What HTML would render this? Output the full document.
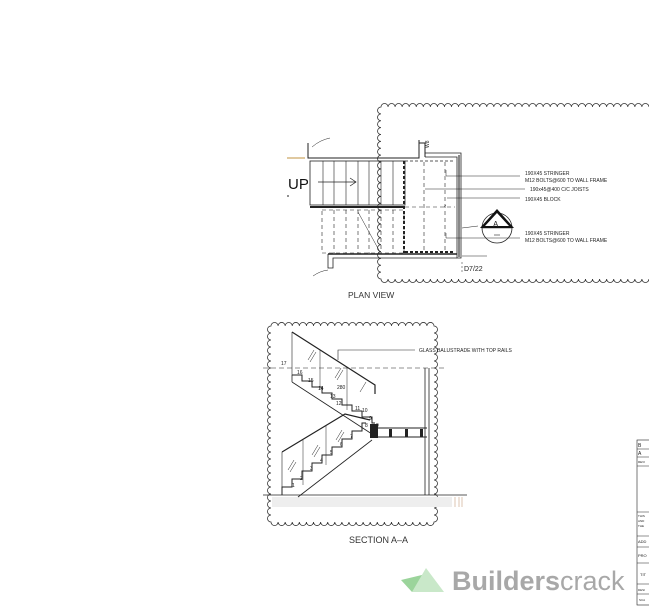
<!DOCTYPE html>
<html><head><meta charset="utf-8"><style>
html,body{margin:0;padding:0;background:#fff}
svg{display:block}
text{font-family:"Liberation Sans",sans-serif}
</style></head><body>
<svg id="s" width="649" height="616" viewBox="0 0 649 616" xmlns="http://www.w3.org/2000/svg">
<g id="clouds" fill="none" stroke="#333" stroke-width="0.8"></g>
<g stroke="#222" fill="none" stroke-width="1">
 <line x1="287" y1="158" x2="305" y2="158" stroke="#e0c9a0" stroke-width="2"/>
 <path d="M308 143 V158 H419 V140 M419 143 h6 v14"/>
 <rect x="310" y="161" width="95" height="44" stroke-width="0.8"/>
 <g stroke-width="0.6">
  <line x1="323" y1="161" x2="323" y2="205"/><line x1="334" y1="161" x2="334" y2="205"/>
  <line x1="346" y1="161" x2="346" y2="205"/><line x1="358" y1="161" x2="358" y2="205"/>
  <line x1="369" y1="161" x2="369" y2="205"/><line x1="381" y1="161" x2="381" y2="205"/>
  <line x1="393" y1="161" x2="393" y2="205"/>
 </g>
 <line x1="310" y1="207" x2="405" y2="207" stroke-width="2"/>
 <path d="M318 182 H356 M350 178 L356 182 L350 186" stroke-width="0.7"/>
 <g stroke-width="0.6" stroke-dasharray="4,3">
  <rect x="322" y="210" width="82" height="43"/>
  <line x1="334" y1="210" x2="334" y2="253"/><line x1="346" y1="210" x2="346" y2="253"/>
  <line x1="358" y1="210" x2="358" y2="253"/><line x1="369" y1="210" x2="369" y2="253"/>
  <line x1="381" y1="210" x2="381" y2="253"/><line x1="393" y1="210" x2="393" y2="253"/>
  <line x1="424" y1="162" x2="424" y2="253"/><line x1="445" y1="162" x2="445" y2="253"/>
  <line x1="405" y1="207" x2="455" y2="207"/>
 </g>
 <line x1="358" y1="212" x2="380" y2="252" stroke-width="0.5"/>
 <line x1="404" y1="161" x2="404" y2="253" stroke-width="2" stroke-dasharray="3,2"/>
 <line x1="405" y1="252" x2="455" y2="252" stroke-width="2" stroke-dasharray="3,2"/>
 <line x1="405" y1="161" x2="455" y2="161" stroke-dasharray="3,2" stroke-width="0.7"/>
 <path d="M425 153 H461 V258 H457 V157 H425" stroke-width="0.8"/>
 <path d="M459 155 V257" stroke="#888" stroke-width="2"/>
 <line x1="328" y1="254" x2="457" y2="254" stroke-width="1.6"/>
 <path d="M328 254 V268 H333 V258 H457" stroke-width="0.8"/>
 <path d="M312 147 Q320 140 330 138 M313 276 Q320 271 328 270" stroke-width="0.5"/>
 <line x1="287" y1="196" x2="289" y2="196"/>
 <g stroke-width="0.5">
  <path d="M446 170 V176 H520"/>
  <line x1="425" y1="189" x2="525" y2="189"/>
  <path d="M446 205 L444 207 M447 198 H520"/>
  <path d="M446 233 V238 H520"/>
  <line x1="462" y1="256" x2="487" y2="256"/>
  <line x1="462" y1="228" x2="478" y2="226"/>
  <line x1="462" y1="262" x2="462" y2="272" stroke-dasharray="2,2"/>
 </g>
 <circle cx="497" cy="228" r="15" stroke-width="0.8"/>
 <line x1="482" y1="228" x2="512" y2="228" stroke-width="0.6"/>
 <path d="M480 228 L497 209 L514 228 Z" fill="#111" stroke="none"/>
 <path d="M485 226 L497 213 L509 226 Z" fill="#fff" stroke="none"/>
 <line x1="494" y1="235" x2="500" y2="235" stroke-width="0.6"/>
 <!-- SECTION -->
 <line x1="263" y1="368" x2="445" y2="368" stroke-dasharray="5,3" stroke-width="0.6"/>
 <line x1="263" y1="495" x2="467" y2="495" stroke-width="0.8"/>
 <rect x="272" y="497" width="180" height="10" fill="#eee" stroke="none"/>
 <path d="M455 497 v10 M459 497 v10 M462 497 v10" stroke="#c9a080" stroke-width="0.6"/>
 <path d="M292 332 L375 385 L375 394" stroke-width="1.2"/>
 <line x1="292" y1="332" x2="292" y2="375" stroke-width="0.6"/>
 <line x1="320" y1="350" x2="320" y2="390" stroke-width="0.5"/>
 <line x1="347" y1="367" x2="347" y2="410" stroke-width="0.5"/>
 <path d="M292 375 h10 v6 h10 v6 h10 v6 h10 v6 h10 v6 h10 v6 h10 v6 h10 v6 h3" stroke-width="1"/>
 <line x1="292" y1="382" x2="375" y2="436" stroke-width="0.8"/>
 <line x1="292" y1="375" x2="292" y2="382" stroke-width="0.8"/>
 <rect x="370" y="424" width="8" height="14" fill="#222" stroke="none"/>
 <line x1="378" y1="428" x2="427" y2="428"/>
 <line x1="378" y1="437" x2="427" y2="437"/>
 <g fill="#222" stroke="none"><rect x="389" y="429" width="3" height="8"/><rect x="405" y="429" width="3" height="8"/><rect x="420" y="429" width="3" height="8"/></g>
 <path d="M425 368 V495 M429 368 V495" stroke-width="0.8"/>
 <path d="M282 452 L345 414 L370 420" stroke-width="1.2"/>
 <line x1="282" y1="452" x2="282" y2="495" stroke-width="0.6"/>
 <line x1="303" y1="440" x2="303" y2="485" stroke-width="0.5"/>
 <line x1="326" y1="426" x2="326" y2="465" stroke-width="0.5"/>
 <path d="M282 495 v-8 h10 v-8 h10 v-8 h10 v-8 h10 v-8 h10 v-8 h10 v-8 h10 v-8 h10 v-8 h4" stroke-width="1"/>
 <line x1="298" y1="497" x2="372" y2="440" stroke-width="0.8"/>
 <path d="M338 360 V350 H415" stroke-width="0.6"/>
 <g stroke-width="0.5">
  <path d="M308 360 l6 -10 M310 362 l6 -10 M335 378 l6-10 M337 380 l6-10 M360 392 l6-10"/>
  <path d="M288 470 l6-10 M290 472 l6-10 M312 455 l6-10 M314 457 l6-10 M336 440 l6-10 M338 442 l6-10"/>
 </g>
 <g stroke-width="0.6">
  <rect x="637" y="440" width="14" height="165"/>
  <path d="M637 449 h14 M637 457 h14 M637 466 h14 M637 512 h14 M637 536 h14 M637 547 h14 M637 563 h14 M637 584 h14 M637 594 h14"/>
 </g>
</g>
<g font-size="5" fill="#222">
 <text x="525" y="175">190X45 STRINGER</text>
 <text x="525" y="182">M12 BOLTS@600 TO WALL FRAME</text>
 <text x="530" y="191">190x45@400 C/C JOISTS</text>
 <text x="525" y="201">190X45 BLOCK</text>
 <text x="525" y="235">190X45 STRINGER</text>
 <text x="525" y="242">M12 BOLTS@600 TO WALL FRAME</text>
 <text x="419" y="352">GLASS BALUSTRADE WITH TOP RAILS</text>
 <text x="281" y="365">17</text><text x="297" y="374">16</text><text x="308" y="382">15</text>
 <text x="318" y="390">14</text><text x="337" y="389">280</text><text x="330" y="398">13</text>
 <text x="336" y="405">12</text><text x="355" y="410">11</text><text x="362" y="412">10</text>
 <text x="369" y="420">9</text><text x="376" y="427">9</text><text x="365" y="427">8</text>
 <text x="292" y="487">1</text><text x="300" y="480">2</text><text x="310" y="470">3</text>
 <text x="320" y="462">4</text><text x="330" y="454">5</text><text x="340" y="446">6</text><text x="350" y="438">7</text>
 <text x="638" y="447">B</text><text x="638" y="455">A</text><text x="638" y="463" font-size="3">REVI</text>
 <text x="638" y="517" font-size="3">THIS</text><text x="638" y="522" font-size="3">AND</text><text x="638" y="527" font-size="3">THE</text>
 <text x="638" y="543" font-size="4">ADD</text><text x="638" y="557" font-size="4">PRO</text><text x="640" y="576" font-size="4">TIT</text>
 <text x="638" y="591" font-size="3">DESI</text><text x="639" y="601" font-size="3">SCA</text>
</g>
<text x="288" y="189" font-size="15" fill="#111">UP</text>
<text x="464" y="271" font-size="7" fill="#222">D7/22</text>
<text x="493" y="227" font-size="8" fill="#222">A</text>
<text x="429" y="148" font-size="5" fill="#222" transform="rotate(-90 429 148)">W8</text>
<text x="348" y="298" font-size="8.5" fill="#333">PLAN  VIEW</text>
<text x="349" y="543" font-size="9" fill="#333">SECTION  A–A</text>
<path d="M401 580 L412 592 L426 574 Z" fill="#9bd49b"/>
<path d="M412 592 L426 568 L444 592 Z" fill="#c9e8c9"/>
<text x="452" y="590" font-size="27" font-weight="bold" fill="#a8a8a8">Builders<tspan font-weight="normal">crack</tspan></text>
</svg>
<script>
function cloud(x,y,w,h,s){var p='M'+x+' '+y,g=document.getElementById('clouds');
var n=Math.round(w/s),d=w/n;for(var i=0;i<n;i++)p+=' a'+d/2+' '+d/2+' 0 0 1 '+d+' 0';
n=Math.round(h/s);d=h/n;for(i=0;i<n;i++)p+=' a'+d/2+' '+d/2+' 0 0 1 0 '+d;
n=Math.round(w/s);d=w/n;for(i=0;i<n;i++)p+=' a'+d/2+' '+d/2+' 0 0 1 '+(-d)+' 0';
n=Math.round(h/s);d=h/n;for(i=0;i<n;i++)p+=' a'+d/2+' '+d/2+' 0 0 1 0 '+(-d);
var e=document.createElementNS('http://www.w3.org/2000/svg','path');e.setAttribute('d',p+'Z');g.appendChild(e);}
cloud(381,107,275,172,7);
cloud(271,326,163,196,7);
</script>
</body></html>
